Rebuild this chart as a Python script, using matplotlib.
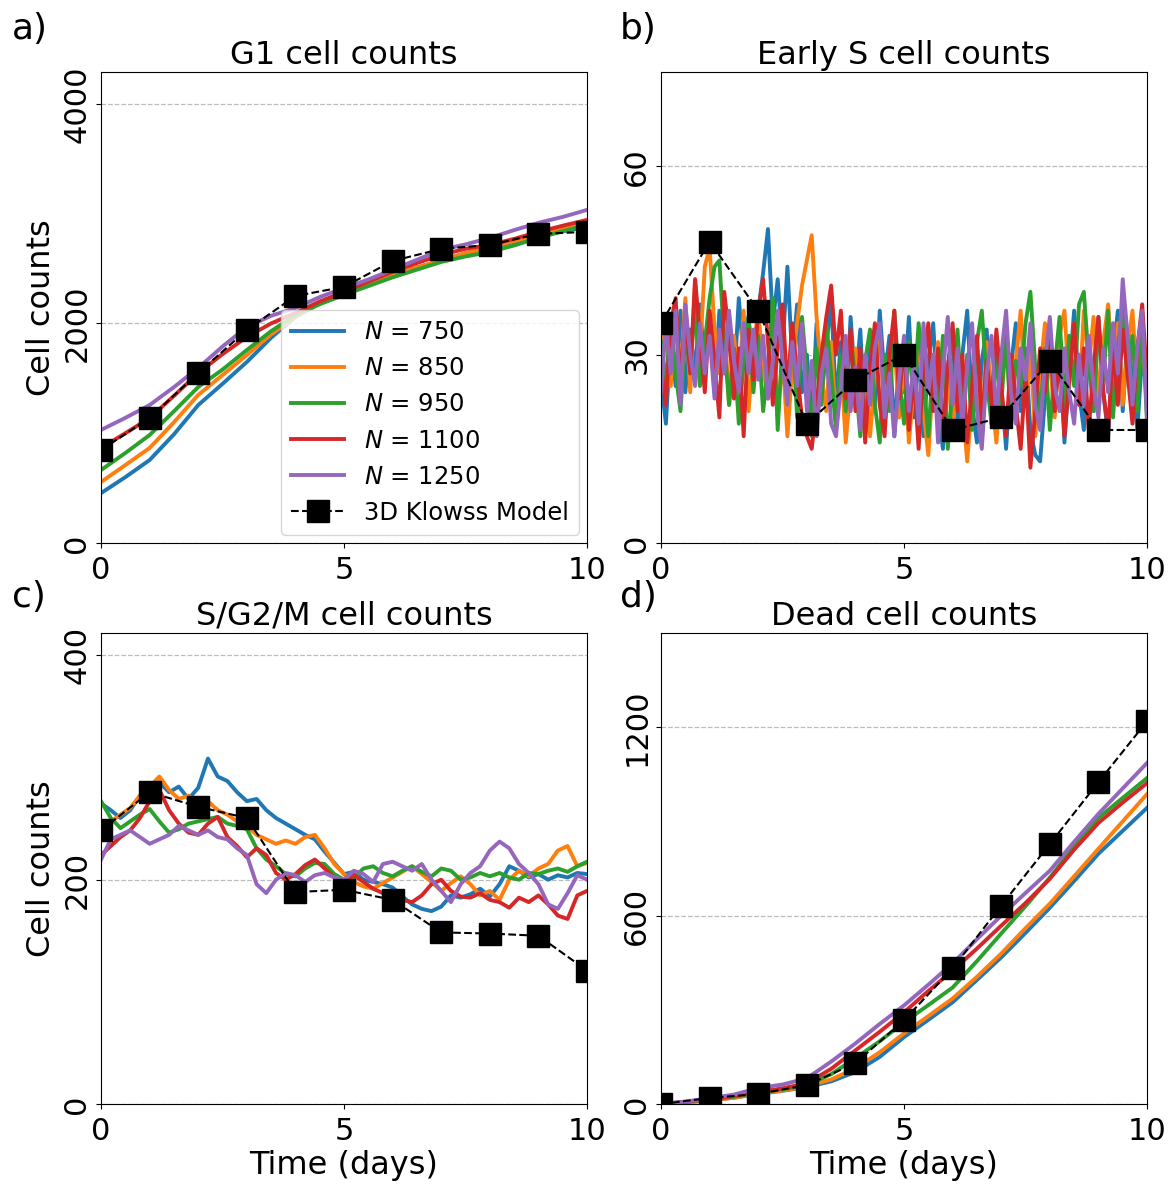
import numpy as np
import matplotlib
matplotlib.use("Agg")
import matplotlib.pyplot as plt

# time grids
t_model = list(range(11))
t_a = [i * 0.5 for i in range(21)]
t_b = [i * 0.1 for i in range(101)]
t_c = [i * 0.2 for i in range(51)]
t_d = [i * 0.5 for i in range(21)]

labels = ["750", "850", "950", "1100", "1250"]
colors = ["#1f77b4", "#ff7f0e", "#2ca02c", "#d62728", "#9467bd"]

# a) G1 cell counts
g1_750 = [455, 600, 756, 990, 1257, 1450, 1649, 1870, 2059, 2190, 2265, 2360, 2430, 2510, 2570, 2640, 2690, 2740, 2790, 2840, 2879]
g1_850 = [556, 710, 866, 1100, 1349, 1530, 1713, 1900, 2059, 2180, 2275, 2360, 2440, 2510, 2575, 2640, 2695, 2750, 2800, 2860, 2925]
g1_950 = [665, 820, 984, 1200, 1421, 1580, 1758, 1930, 2075, 2175, 2260, 2340, 2420, 2490, 2560, 2610, 2651, 2710, 2779, 2840, 2897]
g1_1100 = [866, 1000, 1139, 1340, 1549, 1720, 1877, 2000, 2096, 2200, 2287, 2380, 2470, 2550, 2624, 2680, 2715, 2770, 2834, 2890, 2943]
g1_1250 = [1030, 1140, 1257, 1420, 1595, 1790, 1968, 2070, 2141, 2240, 2323, 2400, 2490, 2580, 2670, 2720, 2779, 2850, 2916, 2970, 3034]
g1_model = [847, 1139, 1549, 1941, 2250, 2333, 2569, 2679, 2715, 2815, 2834]

# b) Early S cell counts
es_750 = [26, 19, 33, 25, 37, 24, 34, 27, 38, 28,
          35, 24, 37, 27, 34, 25, 39, 29, 36, 28,
          37, 43, 50, 35, 42, 31, 44, 29, 38, 24,
          30, 19, 35, 23, 31, 39, 22, 32, 20, 36,
          25, 34, 18, 31, 22, 37, 26, 33, 17, 30,
          24, 36, 20, 31, 17, 29, 35, 21, 15, 28,
          33, 19, 30, 37, 22, 16, 29, 34, 19, 31,
          25, 15, 28, 35, 21, 31, 18, 14, 13, 23,
          30, 22, 33, 16, 27, 37, 24, 18, 31, 21,
          36, 24, 17, 30, 37, 21, 33, 26, 18, 30, 24]
es_850 = [30, 35, 25, 37, 27, 39, 24, 42, 30, 44,
          47, 34, 27, 36, 22, 33, 25, 37, 21, 31,
          37, 28, 23, 34, 20, 30, 17, 28, 35, 41,
          45, 49, 36, 27, 21, 32, 19, 29, 16, 25,
          31, 20, 29, 17, 26, 34, 19, 28, 32, 20,
          29, 16, 25, 33, 21, 14, 27, 32, 18, 28,
          17, 30, 22, 13, 23, 29, 18, 32, 24, 16,
          27, 33, 19, 29, 37, 22, 31, 17, 27, 35,
          29, 20, 33, 37, 25, 35, 22, 37, 28, 36,
          23, 32, 38, 26, 35, 22, 31, 37, 25, 33, 22]
es_950 = [32, 25, 36, 27, 21, 33, 28, 38, 25, 32,
          39, 44, 45, 32, 22, 31, 19, 29, 36, 24,
          33, 21, 28, 39, 18, 32, 23, 34, 20, 36,
          27, 17, 31, 22, 35, 27, 18, 30, 21, 33,
          26, 17, 29, 34, 22, 16, 30, 21, 37, 26,
          19, 32, 23, 35, 26, 17, 29, 21, 33, 15,
          25, 34, 21, 30, 18, 32, 37, 26, 19, 30,
          22, 33, 19, 29, 25, 35, 40, 28, 20, 31,
          18, 28, 36, 22, 33, 25, 38, 40, 29, 21,
          35, 26, 37, 20, 31, 38, 26, 33, 21, 36, 19]
es_1100 = [28, 22, 35, 39, 25, 37, 27, 42, 33, 24,
           37, 29, 20, 40, 33, 23, 31, 17, 34, 26,
           37, 42, 32, 22, 31, 38, 24, 35, 27, 20,
           17, 15, 22, 30, 36, 41, 30, 37, 23, 34,
           21, 31, 16, 28, 35, 22, 17, 30, 37, 23,
           32, 18, 27, 15, 28, 35, 21, 31, 17, 28,
           35, 21, 30, 16, 25, 33, 19, 29, 22, 34,
           25, 17, 30, 22, 15, 27, 12, 21, 31, 24,
           33, 21, 30, 17, 26, 35, 22, 31, 18, 28,
           36, 24, 18, 31, 22, 34, 27, 19, 31, 38, 26]
es_1250 = [24, 35, 27, 37, 22, 38, 30, 25, 35, 27,
           33, 23, 34, 27, 37, 29, 24, 35, 27, 34,
           26, 33, 23, 29, 37, 29, 22, 32, 25, 35,
           21, 29, 17, 27, 31, 19, 17, 25, 33, 21,
           28, 18, 30, 22, 31, 35, 20, 27, 17, 26,
           33, 21, 29, 19, 35, 24, 30, 16, 27, 36,
           22, 31, 19, 28, 35, 21, 15, 27, 33, 20,
           30, 37, 24, 19, 31, 26, 35, 22, 18, 29,
           36, 25, 21, 31, 24, 19, 30, 22, 33, 25,
           20, 31, 24, 35, 27, 42, 33, 22, 31, 37, 20]
es_model = [35, 48, 37, 19, 26, 30, 18, 20, 29, 18, 18]

# c) S/G2/M cell counts
sg_750 = [268, 262, 255, 262, 275, 283, 287, 278, 283, 272, 282, 308, 292, 288, 278, 270, 272, 262, 255, 250,
          245, 240, 236, 225, 215, 205, 207, 200, 198, 196, 193, 185, 178, 174, 172, 176, 186, 184, 187, 192,
          185, 196, 212, 208, 202, 205, 200, 204, 202, 206, 205]
sg_850 = [245, 252, 258, 264, 275, 283, 292, 280, 272, 275, 268, 270, 262, 258, 252, 248, 240, 236, 232, 235,
          232, 238, 240, 228, 214, 205, 198, 194, 192, 197, 202, 207, 212, 205, 198, 190, 197, 203, 196, 186,
          190, 182, 200, 208, 203, 210, 214, 226, 230, 212, 215]
sg_950 = [270, 255, 246, 252, 258, 263, 252, 242, 245, 250, 252, 254, 256, 250, 248, 245, 228, 218, 212, 205,
          203, 210, 215, 214, 205, 200, 202, 210, 212, 206, 203, 208, 212, 207, 203, 210, 208, 200, 202, 206,
          203, 206, 202, 200, 206, 205, 208, 210, 207, 212, 216]
sg_1100 = [222, 230, 238, 244, 255, 270, 280, 262, 250, 242, 240, 250, 256, 238, 230, 220, 228, 222, 206, 200,
           205, 213, 218, 210, 202, 196, 204, 198, 192, 188, 185, 182, 180, 186, 196, 200, 190, 185, 184, 188,
           182, 180, 175, 184, 180, 186, 178, 168, 165, 186, 190]
sg_1250 = [218, 236, 240, 244, 238, 232, 236, 240, 248, 244, 240, 244, 238, 236, 228, 222, 196, 188, 200, 206,
           204, 198, 204, 206, 202, 200, 208, 205, 198, 214, 216, 212, 208, 214, 200, 190, 180, 196, 206, 212,
           226, 234, 228, 214, 206, 196, 178, 174, 188, 204, 200]
sg_model = [244, 278, 265, 255, 189, 191, 182, 153, 152, 150, 119]

# d) Dead cell counts
dd_750 = [0, 5, 12, 20, 32, 42, 54, 72, 102, 150, 213, 268, 324, 395, 467, 545, 625, 710, 797, 870, 943]
dd_850 = [0, 5, 12, 20, 33, 43, 56, 78, 114, 165, 225, 280, 336, 405, 479, 560, 638, 725, 813, 900, 987]
dd_950 = [0, 6, 14, 23, 36, 47, 60, 95, 146, 200, 260, 315, 371, 455, 543, 630, 721, 820, 911, 975, 1038]
dd_1100 = [0, 7, 16, 25, 38, 50, 66, 112, 171, 230, 292, 360, 425, 495, 568, 640, 717, 810, 895, 960, 1022]
dd_1250 = [0, 8, 18, 30, 51, 62, 82, 135, 193, 255, 314, 380, 448, 525, 600, 672, 743, 835, 924, 1005, 1086]
dd_model = [0, 19, 32, 60, 130, 267, 432, 632, 828, 1025, 1219]

panels = [
    ("a)", "G1 cell counts", t_a, [g1_750, g1_850, g1_950, g1_1100, g1_1250], g1_model, 4290, [0, 2000, 4000]),
    ("b)", "Early S cell counts", t_b, [es_750, es_850, es_950, es_1100, es_1250], es_model, 75, [0, 30, 60]),
    ("c)", "S/G2/M cell counts", t_c, [sg_750, sg_850, sg_950, sg_1100, sg_1250], sg_model, 420, [0, 200, 400]),
    ("d)", "Dead cell counts", t_d, [dd_750, dd_850, dd_950, dd_1100, dd_1250], dd_model, 1500, [0, 600, 1200]),
]

fig = plt.figure(figsize=(11.75, 11.88), dpi=100)
lefts = [0.086, 0.5626, 0.086, 0.5626]
bottoms = [0.5429, 0.5429, 0.0707, 0.0707]
w, h = 0.4136, 0.3965
# panel letter positions (figure fraction, top of text)
tag_x = [0.0102, 0.5277, 0.0102, 0.5277]
tag_y = [0.990, 0.990, 0.512, 0.512]

for k, (tag, title, t, series, model, ytop, yt) in enumerate(panels):
    ax = fig.add_axes([lefts[k], bottoms[k], w, h])
    for s, lab, c in zip(series, labels, colors):
        ax.plot(t, s, color=c, lw=2.8, label=f"$N$ = {lab}")
    ax.plot(t_model, model, "k--s", lw=1.5, markersize=16, label="3D Klowss Model")
    ax.set_xlim(0, 10)
    ax.set_ylim(0, ytop)
    ax.set_xticks([0, 5, 10])
    ax.set_yticks(yt)
    ax.yaxis.grid(True, ls="--", color="#bbbbbb", lw=0.9)
    ax.tick_params(labelsize=22)
    ax.tick_params(axis="x", pad=6)
    for lbl in ax.get_yticklabels():
        lbl.set_rotation(90)
        lbl.set_va("center")
    ax.set_title(title, fontsize=23)
    if k % 2 == 0:
        ax.set_ylabel("Cell counts", fontsize=23)
    if k >= 2:
        ax.set_xlabel("Time (days)", fontsize=23, labelpad=3)
    fig.text(tag_x[k], tag_y[k], tag, fontsize=26, va="top")
    if k == 0:
        ax.legend(loc="lower right", fontsize=17.5, handlelength=2.2, borderaxespad=0.35)

fig.savefig("out.png", dpi=100)
